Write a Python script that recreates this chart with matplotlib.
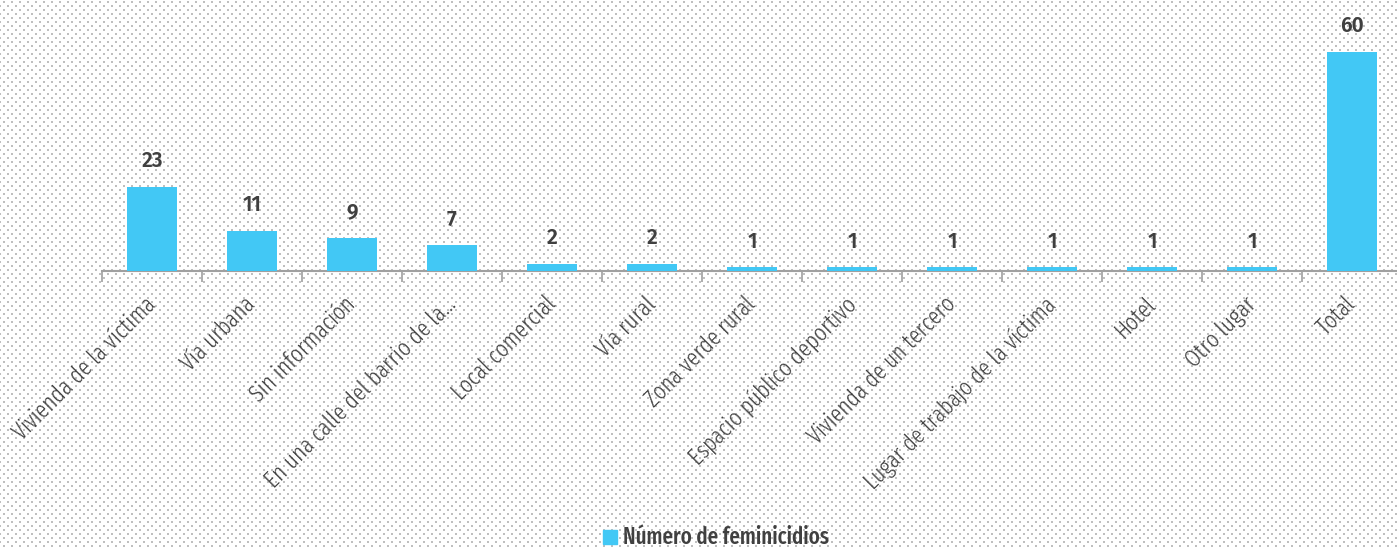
import numpy as np
import matplotlib.pyplot as plt
import matplotlib.transforms as mtransforms

# data
categorias = ["Vivienda de la víctima", "Vía urbana", "Sin información",
              "En una calle del barrio de la...", "Local comercial", "Vía rural",
              "Zona verde rural", "Espacio público deportivo", "Vivienda de un tercero",
              "Lugar de trabajo de la víctima", "Hotel", "Otro lugar", "Total"]
feminicidios = [23, 11, 9, 7, 2, 2, 1, 1, 1, 1, 1, 1, 60]
serie = "Número de feminicidios"

W, H = 1397, 547
fig = plt.figure(figsize=(W / 100, H / 100), dpi=100)
fig.patch.set_facecolor("white")

# dotted background pattern
bg = np.ones((H, W, 3))
yy, xx = np.mgrid[0:H, 0:W]
row = yy // 4
dots = (yy % 4 >= 1) & (yy % 4 <= 2) & (((xx + 5 - (row % 2) * 4) % 8) <= 1)
bg[dots] = 0.75
fig.figimage(bg, xo=0, yo=0, origin="upper", zorder=0)

ax = fig.add_axes([102 / W, 276 / H, 1300 / W, 237.3 / H])
ax.set_zorder(2)
ax.set_facecolor("none")

color = "#42C8F5"
x = np.arange(len(categorias))
ax.bar(x, feminicidios, width=0.5, color=color, zorder=3)

for xi, v in zip(x, feminicidios):
    ax.annotate(str(v), (xi, v), xytext=(0, 11), textcoords="offset points",
                ha="center", va="bottom", fontsize=15, fontweight=600,
                color="#404040", family=["Fira Sans", "DejaVu Sans"])

ax.set_xlim(-0.5, 12.5)
ax.set_ylim(0, 65)
ax.set_yticks([])
for s in ["left", "right", "top"]:
    ax.spines[s].set_visible(False)
ax.spines["bottom"].set_color("#a0a0a0")
ax.spines["bottom"].set_linewidth(1.5)

# category boundary ticks
ax.set_xticks(np.arange(-0.5, 13, 1), minor=True)
ax.tick_params(axis="x", which="minor", length=8, width=1.2, color="#a0a0a0")
ax.set_xticks(x)
ax.tick_params(axis="x", which="major", length=0, pad=14)
ax.set_xticklabels(categorias, rotation=45, ha="right", rotation_mode="anchor",
                   fontsize=17, fontweight=300, color="#404040",
                   family=["Fira Sans Extra Condensed", "DejaVu Sans"])
shift = mtransforms.ScaledTranslation(-8 / 100, -2 / 100, fig.dpi_scale_trans)
for lab in ax.get_xticklabels():
    lab.set_transform(lab.get_transform() + shift)

# legend
fig.patches.append(plt.Rectangle((603 / W, (H - 544) / H), 14 / W, 14 / H,
                                 transform=fig.transFigure, color=color, zorder=3))
fig.text(623 / W, (H - 537) / H, serie, ha="left", va="center", fontsize=16.5,
         fontweight=500, color="#404040", zorder=3,
         family=["Fira Sans Extra Condensed", "DejaVu Sans"])

fig.savefig("out.png", dpi=100)
